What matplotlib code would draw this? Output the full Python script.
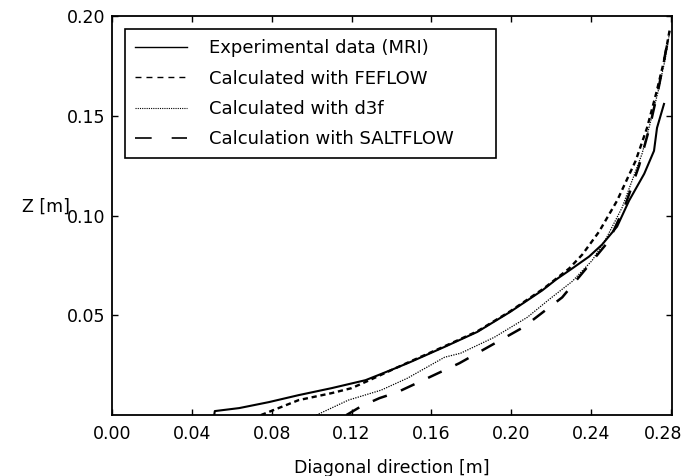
import matplotlib
matplotlib.use('Agg')
import matplotlib.pyplot as plt
import matplotlib.ticker as ticker
from matplotlib.transforms import ScaledTranslation

exp_x = [0.0512, 0.0515, 0.0637, 0.0786, 0.0935, 0.110, 0.127, 0.1333, 0.142, 0.1497,
         0.1666, 0.183, 0.1994, 0.2155, 0.2225, 0.2305, 0.239, 0.2455, 0.253, 0.259,
         0.2666, 0.2715, 0.273, 0.2765]
exp_z = [0.0, 0.002, 0.0035, 0.0065, 0.010, 0.0135, 0.0175, 0.020, 0.0235, 0.0267,
         0.0342, 0.0417, 0.0517, 0.0625, 0.068, 0.0735, 0.0795, 0.0855, 0.0945, 0.1075,
         0.121, 0.1325, 0.144, 0.156]

feflow_x = [0.0746, 0.0935, 0.110, 0.120, 0.129, 0.142, 0.1497, 0.1666, 0.183, 0.1994,
            0.2163, 0.229, 0.2356, 0.244, 0.253, 0.2623, 0.268, 0.2725, 0.2765, 0.2795]
feflow_z = [0.0, 0.0075, 0.011, 0.0135, 0.0175, 0.0235, 0.027, 0.0345, 0.042, 0.052,
            0.0635, 0.0735, 0.0805, 0.092, 0.1075, 0.1275, 0.144, 0.161, 0.1775, 0.194]

d3f_x = [0.1024, 0.1184, 0.1348, 0.148, 0.1666, 0.1746, 0.1915, 0.208, 0.219, 0.2305,
         0.2405, 0.2475, 0.2555, 0.2655, 0.2695, 0.2735, 0.277, 0.2795]
d3f_z = [0.0, 0.0075, 0.0125, 0.0185, 0.029, 0.031, 0.039, 0.049, 0.058, 0.067,
         0.0775, 0.0885, 0.104, 0.131, 0.146, 0.162, 0.178, 0.193]

saltflow_x = [0.1174, 0.125, 0.134, 0.143, 0.158, 0.174, 0.190, 0.206, 0.2255, 0.2375,
              0.249, 0.257, 0.264, 0.2695, 0.274, 0.2775, 0.2795]
saltflow_z = [0.0, 0.0045, 0.0085, 0.0115, 0.0185, 0.026, 0.035, 0.044, 0.059, 0.0735,
              0.0875, 0.105, 0.125, 0.145, 0.165, 0.183, 0.192]

x_ticks = [0.00, 0.04, 0.08, 0.12, 0.16, 0.20, 0.24, 0.28]
y_ticks = [0.05, 0.10, 0.15, 0.20]

plt.rcParams['font.family'] = ['DejaVu Sans']
plt.rcParams['font.size'] = 12.5

fig = plt.figure(figsize=(6.85, 4.76), dpi=100)
ax = fig.add_axes([0.1635, 0.128, 0.8175, 0.838])

ax.plot(exp_x, exp_z, color='black', lw=1.5, label='Experimental data (MRI)')
ax.plot(feflow_x, feflow_z, color='black', lw=1.7, dashes=(2.2, 1.6),
        label='Calculated with FEFLOW')
ax.plot(d3f_x, d3f_z, color='black', lw=0.9, dashes=(1.0, 1.0),
        label='Calculated with d3f')
ax.plot(saltflow_x, saltflow_z, color='black', lw=1.8, dashes=(6, 6),
        label='Calculation with SALTFLOW')

ax.set_xlim(0, 0.2805)
ax.set_ylim(0, 0.20)
ax.xaxis.set_major_locator(ticker.FixedLocator(x_ticks))
ax.yaxis.set_major_locator(ticker.FixedLocator(y_ticks))
ax.xaxis.set_major_formatter(ticker.FormatStrFormatter('%.2f'))
ax.yaxis.set_major_formatter(ticker.FormatStrFormatter('%.2f'))
ax.tick_params(direction='in', length=4, width=1, top=True, right=True)
ax.tick_params(axis='x', pad=7)
ax.tick_params(axis='y', pad=5)
for s in ax.spines.values():
    s.set_linewidth(1.3)

# keep the last x label inside the figure, like the original
last = ax.get_xticklabels()[-1]
last.set_transform(last.get_transform() + ScaledTranslation(-6 / 72, 0, fig.dpi_scale_trans))

ax.set_xlabel('Diagonal direction [m]', labelpad=12)
ax.set_ylabel('Z [m]', rotation=0)
ax.yaxis.set_label_coords(-0.118, 0.5)

leg = ax.legend(loc='upper left', bbox_to_anchor=(0.023, 0.967, 0.6625, 0.0),
                mode='expand', borderaxespad=0, fancybox=False, framealpha=1,
                edgecolor='black', handlelength=2.9, handletextpad=1.2,
                labelspacing=0.68, borderpad=0.55, fontsize=13)
leg.get_frame().set_linewidth(1.2)
hl = leg.get_lines()
hl[0].set_linewidth(1.0)
hl[1].set_linewidth(1.0)
hl[1].set_dashes((4.3, 3.6))
hl[2].set_linewidth(0.8)
hl[2].set_dashes((1.0, 1.0))
hl[3].set_linewidth(1.2)
hl[3].set_dashes((10, 12))

fig.savefig('out.png', dpi=100)
